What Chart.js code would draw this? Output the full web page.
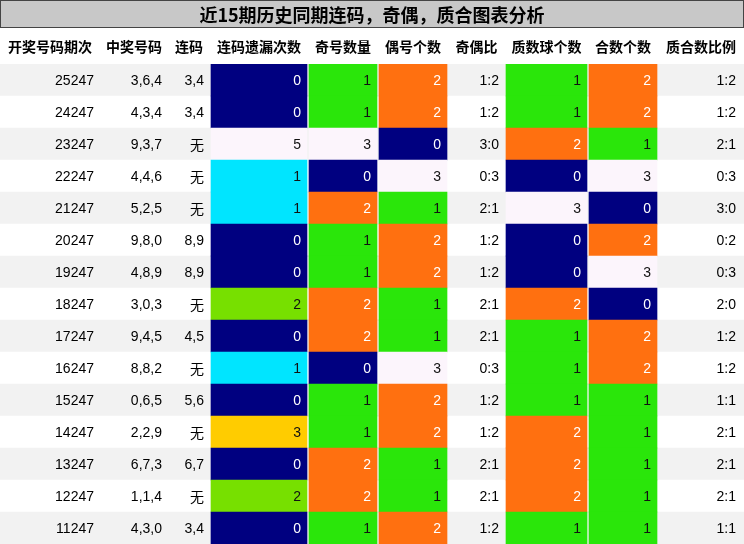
<!DOCTYPE html>
<html><head><meta charset="utf-8">
<script src="https://cdn.jsdelivr.net/npm/chart.js@4/dist/chart.umd.min.js"></script>
<style>html,body{margin:0;padding:0;background:#fff}#w{width:744px;height:544px}</style>
</head><body><div id="w"><canvas id="c" width="744" height="544"></canvas></div>
<script>
const title = '近15期历史同期连码，奇偶，质合图表分析';
const headers = ['开奖号码期次','中奖号码','连码','连码遗漏次数','奇号数量','偶号个数','奇偶比','质数球个数','合数个数','质合数比例'];
const periods = ['25247','24247','23247','22247','21247','20247','19247','18247','17247','16247','15247','14247','13247','12247','11247'];
const numbers = ['3,6,4','4,3,4','9,3,7','4,4,6','5,2,5','9,8,0','4,8,9','3,0,3','9,4,5','8,8,2','0,6,5','2,2,9','6,7,3','1,1,4','4,3,0'];
const lianma = ['3,4','3,4','无','无','无','8,9','8,9','无','4,5','无','5,6','无','6,7','无','3,4'];
const missCount = [0,0,5,1,1,0,0,2,0,1,0,3,0,2,0];
const oddCount = [1,1,3,0,2,1,1,2,2,0,1,1,2,2,1];
const evenCount = [2,2,0,3,1,2,2,1,1,3,2,2,1,1,2];
const oddEvenRatio = ['1:2','1:2','3:0','0:3','2:1','1:2','1:2','2:1','2:1','0:3','1:2','1:2','2:1','2:1','1:2'];
const primeCount = [1,1,2,0,3,0,0,2,1,1,1,2,2,2,1];
const compositeCount = [2,2,1,3,0,2,3,0,2,2,1,1,1,1,1];
const primeCompRatio = ['1:2','1:2','2:1','0:3','3:0','0:2','0:3','2:0','1:2','1:2','1:1','2:1','2:1','2:1','1:1'];

// layout (pixels on x scale 0..744)
const colBounds = [[0,100],[100,168],[168,210],[210,308],[308,378],[378,448],[448,505],[505,588],[588,658],[658,744]];
const countColors = {0:'#000080',1:'#2ae60a',2:'#ff7010',3:'#fcf5fc'};
const missColors = {0:'#000080',1:'#00e5ff',2:'#77e000',3:'#ffcc00',5:'#fcf5fc'};
const rows = periods.map((_,i)=>i);

function cellDs(col, vals, cmap){
  const [a,b]=colBounds[col];
  return {data: vals.map(()=>[a+1,b-1]), backgroundColor: vals.map(v=>cmap[v]), values: vals, col, grouped:false, order:0};
}
const colored = [
  cellDs(3, missCount, missColors),
  cellDs(4, oddCount, countColors),
  cellDs(5, evenCount, countColors),
  cellDs(7, primeCount, countColors),
  cellDs(8, compositeCount, countColors)
];
const bgDs = {data: rows.map(()=>[0,744]), backgroundColor: rows.map(i=>i%2===0?'#f2f2f2':'#ffffff'), grouped:false, order:10};

const textPlugin = {
  id:'tbl',
  beforeDraw(ch){
    const c=ch.ctx;
    c.save();
    c.fillStyle='#fff';c.fillRect(0,0,744,544);
    c.fillStyle='#c8c8c8';c.fillRect(0,0,744,28);
    c.strokeStyle='#444';c.lineWidth=1;c.strokeRect(0.5,0.5,743,27);
    c.fillStyle='#000';c.font='bold 18px "Noto Sans CJK SC"';c.textAlign='center';c.textBaseline='middle';
    c.fillText(title,372,15);
    c.font='bold 14px "Noto Sans CJK SC"';
    headers.forEach((h,i)=>{const [a,b]=colBounds[i];c.fillText(h,(a+b)/2,47);});
    c.restore();
  },
  afterDatasetsDraw(ch){
    const c=ch.ctx, y=ch.scales.y;
    c.save();c.textAlign='right';c.textBaseline='middle';
    const plain=[periods,numbers,lianma,null,null,null,oddEvenRatio,null,null,primeCompRatio];
    rows.forEach(i=>{
      const py=y.getPixelForValue(i)+1;
      plain.forEach((arr,col)=>{
        if(!arr)return;
        const t=arr[i];
        c.fillStyle='#000';
        c.font=(t==='无'?'14px "Noto Sans CJK SC"':'14px "Liberation Sans"');
        c.fillText(t,colBounds[col][1]-(col===9?8:6),py);
      });
      colored.forEach(ds=>{
        const v=ds.values[i];
        const bg=ds.backgroundColor[i];
        c.fillStyle=(bg==='#000080'||bg==='#ff7010')?'#fff':'#111';
        c.font='14px "Liberation Sans"';
        c.fillText(String(v),colBounds[ds.col][1]-7,py);
      });
    });
    c.restore();
  }
};

new Chart(document.getElementById('c'),{
  type:'bar',
  data:{labels:rows,datasets:[bgDs,...colored]},
  options:{
    indexAxis:'y',responsive:false,animation:false,
    layout:{padding:{top:64,left:0,right:0,bottom:0}},
    datasets:{bar:{barPercentage:1,categoryPercentage:1,borderWidth:0,borderSkipped:false}},
    plugins:{legend:{display:false},tooltip:{enabled:false}},
    scales:{
      x:{type:'linear',min:0,max:744,display:false},
      y:{type:'category',display:false,offset:true}
    }
  },
  plugins:[textPlugin]
});
</script></body></html>
